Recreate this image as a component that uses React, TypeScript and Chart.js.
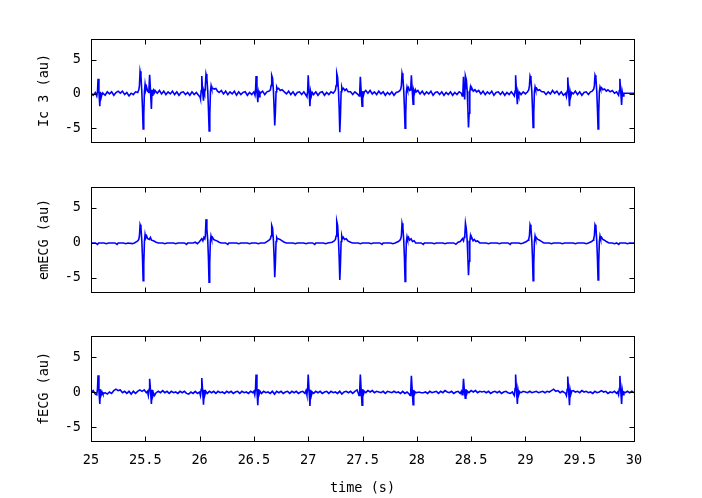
import React, { useEffect, useRef } from "react";
import { Chart, registerables } from "chart.js";
Chart.register(...registerables);

const xTicks = [25, 25.5, 26, 26.5, 27, 27.5, 28, 28.5, 29, 29.5, 30];
const yTicks = [-5, 0, 5];
const xRange = [25, 30];
const yRange = [-7, 8];
const axisTitles = ["Ic 3 (au)", "emECG (au)", "fECG (au)"];
const xTitle = "time (s)";

const ic3 = [
[25.00,0.1],[25.02,-0.2],[25.04,0.2],
[25.053,-0.3],[25.060,0.4],[25.065,2.2],[25.073,0.3],[25.081,-1.8],[25.087,0.3],[25.094,-0.5],[25.102,0.0],
[25.11,0.1],[25.13,-0.2],[25.15,0.3],[25.17,0.0],[25.19,0.3],[25.21,-0.2],[25.23,0.2],[25.25,0.4],[25.27,0.1],[25.29,0.4],[25.31,-0.1],[25.33,0.2],[25.35,-0.3],[25.37,0.1],[25.39,-0.1],[25.41,0.3],[25.43,0.2],[25.44,0.6],
[25.446,1.2],[25.452,3.3],[25.460,2.6],[25.468,0.3],[25.474,-2.0],[25.480,-5.1],[25.486,-3.0],[25.492,0.3],[25.498,1.4],[25.505,0.6],[25.512,1.0],[25.522,0.4],[25.532,0.2],
[25.534,0.8],[25.540,2.8],[25.548,0.4],[25.556,-2.2],[25.562,0.6],[25.569,-0.3],[25.577,0.5],[25.585,0.2],
[25.59,0.5],[25.61,0.1],[25.63,0.5],[25.65,0.0],[25.67,0.4],[25.69,-0.1],[25.71,0.3],[25.73,0.0],[25.75,0.4],[25.77,-0.1],[25.79,0.3],[25.81,-0.2],[25.83,0.2],[25.85,0.3],[25.87,-0.1],[25.89,0.2],[25.91,-0.2],[25.93,0.3],[25.95,-0.1],[25.97,0.2],[25.99,-0.2],[26.005,-0.5],
[26.008,-0.7],[26.015,0.5],[26.020,2.6],[26.028,0.3],[26.036,-1.0],[26.041,0.4],[26.046,0.1],[26.050,0.6],
[26.053,1.2],[26.059,2.9],[26.067,2.3],[26.075,0.4],[26.081,-2.0],[26.088,-5.4],[26.094,-3.0],[26.100,0.3],[26.106,1.2],[26.112,0.8],[26.122,0.8],[26.135,0.7],[26.150,0.8],[26.165,0.4],
[26.18,0.2],[26.20,0.5],[26.22,0.0],[26.24,0.4],[26.26,-0.1],[26.28,0.3],[26.30,0.0],[26.32,0.4],[26.34,-0.2],[26.36,0.3],[26.38,-0.1],[26.40,0.2],[26.42,0.3],[26.44,-0.2],[26.46,0.2],[26.48,-0.1],[26.50,0.3],
[26.510,-0.2],[26.515,0.4],[26.520,2.6],[26.528,0.3],[26.536,-1.2],[26.542,0.2],[26.549,-0.4],[26.556,0.2],
[26.56,0.1],[26.58,0.4],[26.60,-0.1],[26.62,0.3],[26.64,0.4],[26.652,0.6],
[26.658,1.2],[26.664,2.7],[26.672,2.3],[26.680,0.4],[26.686,-2.0],[26.692,-4.6],[26.698,-2.6],[26.704,0.3],[26.710,1.0],[26.718,0.7],[26.728,0.8],[26.742,0.5],[26.760,0.6],[26.78,0.3],
[26.80,0.0],[26.82,0.4],[26.84,-0.1],[26.86,0.3],[26.88,-0.2],[26.90,0.2],[26.92,0.3],[26.94,-0.1],[26.96,0.3],[26.98,-0.2],
[26.988,-0.4],[26.995,0.4],[27.000,2.7],[27.008,0.3],[27.016,-1.8],[27.022,0.3],[27.029,-0.3],[27.037,0.2],
[27.05,-0.1],[27.07,0.3],[27.09,-0.2],[27.11,0.2],[27.13,0.3],[27.15,-0.2],[27.17,0.2],[27.19,-0.1],[27.21,0.3],[27.23,0.1],[27.245,0.4],[27.251,0.6],
[27.257,1.2],[27.263,3.0],[27.271,2.4],[27.279,0.4],[27.285,-2.0],[27.291,-5.6],[27.297,-3.2],[27.303,0.3],[27.309,1.0],[27.316,0.6],[27.325,0.8],[27.338,0.5],[27.352,0.7],[27.368,0.3],
[27.39,0.3],[27.41,-0.1],[27.43,0.3],[27.46,-0.1],
[27.468,-0.3],[27.475,0.5],[27.480,2.5],[27.488,0.3],[27.496,-1.8],[27.502,0.4],[27.509,-0.2],[27.517,0.3],
[27.53,0.5],[27.55,0.1],[27.57,0.5],[27.59,0.0],[27.61,0.3],[27.63,-0.1],[27.65,0.4],[27.67,0.0],[27.69,0.3],[27.71,-0.2],[27.73,0.2],[27.75,-0.1],[27.77,0.3],[27.79,-0.2],[27.81,0.2],[27.83,0.3],[27.845,0.5],[27.852,0.7],
[27.858,1.2],[27.864,3.0],[27.872,2.4],[27.880,0.4],[27.886,-2.0],[27.892,-5.0],[27.898,-3.0],[27.904,0.3],[27.910,1.0],[27.916,0.6],[27.924,0.9],[27.934,0.5],[27.943,0.6],
[27.945,1.0],[27.950,2.7],[27.958,0.5],[27.966,-1.5],[27.972,0.5],[27.979,0.1],[27.987,0.6],[27.995,0.3],
[28.01,0.5],[28.03,0.0],[28.05,0.4],[28.07,-0.1],[28.09,0.3],[28.11,0.0],[28.13,0.4],[28.15,-0.2],[28.17,0.2],[28.19,0.3],[28.21,-0.1],[28.23,0.3],[28.25,-0.2],[28.27,0.2],[28.29,-0.1],[28.31,0.3],[28.33,-0.2],[28.35,0.2],[28.37,-0.1],[28.39,0.3],[28.41,0.1],
[28.418,-0.3],[28.425,0.5],[28.430,2.5],[28.436,0.4],[28.441,-0.8],[28.444,0.8],
[28.445,1.2],[28.450,2.6],[28.457,2.0],[28.464,0.4],[28.470,-2.0],[28.476,-4.9],[28.482,-2.8],[28.488,0.3],[28.494,1.0],[28.500,0.6],[28.508,0.8],[28.520,0.4],[28.535,0.6],[28.550,0.3],
[28.57,0.5],[28.59,0.0],[28.61,0.4],[28.63,-0.1],[28.65,0.3],[28.67,0.0],[28.69,0.4],[28.71,-0.2],[28.73,0.2],[28.75,0.3],[28.77,-0.1],[28.79,0.3],[28.81,-0.2],[28.83,0.2],[28.85,-0.1],[28.87,0.3],[28.89,-0.1],
[28.898,-0.3],[28.905,0.4],[28.910,2.7],[28.918,0.3],[28.926,-1.5],[28.932,0.3],[28.939,-0.2],[28.947,0.2],
[28.96,-0.1],[28.98,0.3],[29.00,0.0],[29.02,0.3],[29.031,0.6],
[29.037,1.2],[29.043,2.6],[29.051,2.2],[29.059,0.4],[29.065,-2.0],[29.071,-4.9],[29.077,-2.8],[29.083,0.3],[29.089,1.0],[29.095,0.6],[29.104,0.8],[29.116,0.5],[29.130,0.6],[29.150,0.3],
[29.17,0.3],[29.19,-0.1],[29.21,0.3],[29.23,0.0],[29.25,0.5],[29.27,0.1],[29.29,0.4],[29.31,-0.1],[29.33,0.3],[29.35,-0.2],[29.37,0.1],
[29.378,-0.4],[29.385,0.4],[29.390,2.4],[29.398,0.3],[29.406,-1.8],[29.412,0.3],[29.419,-0.3],[29.427,0.2],
[29.44,0.0],[29.46,0.4],[29.48,-0.1],[29.50,0.3],[29.52,-0.2],[29.54,0.2],[29.56,0.3],[29.58,-0.1],[29.60,0.3],[29.615,0.4],[29.629,0.7],
[29.635,1.2],[29.641,2.7],[29.649,2.3],[29.657,0.4],[29.663,-2.0],[29.669,-5.1],[29.675,-2.8],[29.681,0.3],[29.687,1.0],[29.693,0.7],[29.701,0.9],[29.713,0.6],[29.728,0.7],[29.745,0.4],
[29.76,0.6],[29.78,0.3],[29.80,0.5],[29.82,0.1],[29.84,0.3],[29.85,0.0],
[29.858,-0.2],[29.865,0.5],[29.870,2.2],[29.878,0.3],[29.886,-1.6],[29.892,0.3],[29.899,-0.3],[29.907,0.1],
[29.92,0.1],[29.94,0.1],[29.96,0.1],[29.98,0.1],[30.00,0.1]
];

const emecg = [
[25.00,0.0],[25.04,0.0],[25.06,-0.2],[25.07,0.0],[25.12,0.0],[25.14,-0.1],[25.16,0.0],[25.22,0.0],[25.24,-0.2],[25.25,0.0],[25.30,0.0],[25.32,-0.1],[25.34,0.0],[25.38,-0.1],[25.40,0.0],[25.42,0.2],[25.43,0.3],[25.44,0.5],
[25.446,1.0],[25.452,2.6],[25.460,2.2],[25.468,0.3],[25.474,-2.0],[25.480,-5.4],[25.486,-3.0],[25.492,0.2],[25.498,1.2],[25.504,0.7],[25.512,1.0],[25.522,0.6],[25.537,0.5],[25.547,0.8],[25.557,0.4],[25.575,0.3],[25.60,0.1],[25.62,0.0],
[25.66,0.0],[25.68,-0.1],[25.70,0.0],[25.76,0.0],[25.78,-0.1],[25.80,0.0],[25.86,0.0],[25.88,-0.2],[25.89,0.0],[25.94,0.0],[25.96,0.1],[25.98,-0.1],[26.00,0.2],[26.02,0.6],[26.03,0.3],[26.04,0.8],[26.048,0.6],
[26.053,1.0],[26.059,3.4],[26.067,2.0],[26.075,0.4],[26.081,-2.0],[26.087,-5.6],[26.093,-3.0],[26.099,0.2],[26.105,1.0],[26.111,0.6],[26.119,0.8],[26.129,0.5],[26.144,0.4],[26.160,0.3],[26.18,0.1],[26.20,0.0],
[26.24,0.0],[26.26,-0.2],[26.27,0.0],[26.34,0.0],[26.36,-0.1],[26.38,0.0],[26.44,0.0],[26.46,-0.1],[26.48,0.0],[26.52,0.0],[26.54,-0.1],[26.56,0.0],[26.60,0.0],[26.62,0.2],[26.64,0.4],[26.652,0.6],
[26.658,1.0],[26.664,2.5],[26.672,2.1],[26.680,0.3],[26.686,-2.0],[26.692,-4.9],[26.698,-2.8],[26.704,0.2],[26.710,0.8],[26.716,0.6],[26.724,0.6],[26.740,0.5],[26.760,0.3],[26.78,0.1],[26.80,0.0],
[26.86,0.0],[26.88,-0.1],[26.90,0.0],[26.96,0.0],[26.98,-0.1],[27.00,0.0],[27.04,0.0],[27.06,-0.2],[27.07,0.0],[27.14,0.0],[27.16,-0.1],[27.18,0.0],[27.22,0.1],[27.24,0.3],[27.251,0.5],
[27.257,1.0],[27.263,3.1],[27.271,2.5],[27.279,0.3],[27.285,-2.0],[27.291,-5.3],[27.297,-3.0],[27.303,0.2],[27.309,1.0],[27.315,0.6],[27.323,0.8],[27.335,0.5],[27.350,0.6],[27.365,0.3],[27.39,0.1],[27.41,0.0],
[27.46,0.0],[27.48,-0.1],[27.50,0.0],[27.56,0.0],[27.58,-0.1],[27.60,0.0],[27.66,0.0],[27.68,-0.2],[27.69,0.0],[27.76,0.0],[27.78,-0.1],[27.80,0.0],[27.83,0.2],[27.845,0.4],[27.852,0.6],
[27.858,1.0],[27.864,2.8],[27.872,2.2],[27.880,0.3],[27.886,-2.0],[27.892,-5.5],[27.898,-3.0],[27.904,0.2],[27.910,0.9],[27.916,0.5],[27.924,0.8],[27.934,0.4],[27.948,0.6],[27.960,0.2],[27.975,0.3],[27.99,0.0],
[28.04,0.0],[28.06,-0.2],[28.07,0.0],[28.14,0.0],[28.16,-0.1],[28.18,0.0],[28.24,0.0],[28.26,-0.1],[28.28,0.0],[28.34,0.0],[28.36,-0.2],[28.38,0.1],[28.40,0.2],[28.42,0.6],[28.43,0.3],[28.436,0.8],
[28.442,1.0],[28.448,2.8],[28.456,2.0],[28.464,0.3],[28.470,-2.0],[28.476,-4.6],[28.482,-2.6],[28.488,0.2],[28.494,1.0],[28.500,0.6],[28.508,0.7],[28.518,0.3],[28.530,0.5],[28.545,0.2],[28.56,0.3],[28.58,0.0],
[28.64,0.0],[28.66,-0.1],[28.68,0.0],[28.74,0.0],[28.76,-0.1],[28.78,0.0],[28.84,0.0],[28.86,-0.2],[28.87,0.0],[28.94,0.0],[28.96,-0.1],[28.98,0.0],[29.01,0.2],[29.025,0.4],[29.031,0.6],
[29.037,1.0],[29.043,2.6],[29.051,2.2],[29.059,0.3],[29.065,-2.0],[29.071,-5.4],[29.077,-3.0],[29.083,0.2],[29.089,1.0],[29.095,0.6],[29.103,0.7],[29.115,0.5],[29.130,0.4],[29.150,0.2],[29.17,0.0],
[29.22,0.0],[29.24,-0.1],[29.26,0.0],[29.32,0.0],[29.34,-0.1],[29.36,0.0],[29.44,0.0],[29.46,-0.1],[29.48,0.0],[29.54,0.0],[29.56,-0.1],[29.58,0.0],[29.61,0.2],[29.625,0.4],[29.629,0.6],
[29.635,1.0],[29.641,2.6],[29.649,2.3],[29.657,0.3],[29.663,-2.0],[29.669,-5.3],[29.675,-2.8],[29.681,0.2],[29.687,1.0],[29.693,0.6],[29.701,0.8],[29.713,0.5],[29.728,0.4],[29.745,0.2],[29.77,0.0],
[29.80,0.0],[29.82,-0.1],[29.84,0.0],[29.86,-0.2],[29.87,0.0],[29.92,0.0],[29.94,-0.1],[29.96,0.0],[30.00,0.0]
];

const fecg = [
[25.00,-0.1],[25.02,0.2],[25.04,-0.3],
[25.053,-0.4],[25.060,0.5],[25.065,2.4],[25.073,0.2],[25.081,-1.7],[25.087,0.4],[25.094,-0.4],[25.102,0.0],
[25.11,-0.3],[25.13,-0.1],[25.15,-0.3],[25.17,0.0],[25.19,-0.2],[25.21,0.2],[25.23,0.4],[25.25,0.2],[25.27,0.3],[25.29,-0.1],[25.31,0.1],[25.33,-0.2],[25.35,0.1],[25.37,-0.3],[25.39,0.1],[25.41,-0.2],[25.43,0.1],[25.45,0.3],[25.47,0.1],[25.49,0.3],[25.51,-0.1],[25.52,0.1],
[25.528,-0.5],[25.535,0.4],[25.540,1.9],[25.548,0.2],[25.556,-1.7],[25.562,0.3],[25.569,-0.6],[25.577,-0.2],[25.585,-0.5],
[25.60,-0.1],[25.62,0.1],[25.64,-0.1],[25.66,0.2],[25.68,-0.1],[25.70,0.1],[25.72,-0.2],[25.74,0.1],[25.76,-0.1],[25.78,0.0],[25.80,-0.2],[25.82,0.1],[25.84,-0.1],[25.86,0.1],[25.88,-0.2],[25.90,-0.3],[25.92,0.0],[25.94,-0.2],[25.96,0.1],[25.98,-0.2],[26.00,0.0],
[26.008,-0.5],[26.015,0.4],[26.020,2.0],[26.028,0.2],[26.036,-1.8],[26.042,0.3],[26.049,-0.4],[26.057,0.1],
[26.07,-0.2],[26.09,0.1],[26.11,-0.1],[26.13,0.1],[26.15,-0.2],[26.17,0.1],[26.19,-0.1],[26.21,0.0],[26.23,-0.2],[26.25,0.1],[26.27,-0.1],[26.29,0.1],[26.31,-0.2],[26.33,0.0],[26.35,0.1],[26.37,-0.2],[26.39,0.1],[26.41,-0.1],[26.43,0.0],[26.45,-0.2],[26.47,0.1],[26.49,-0.1],[26.50,0.1],
[26.508,-0.4],[26.515,0.5],[26.520,2.5],[26.528,0.2],[26.536,-1.9],[26.542,0.4],[26.549,-0.3],[26.557,0.1],
[26.57,-0.2],[26.59,0.1],[26.61,-0.1],[26.63,0.0],[26.65,-0.2],[26.67,0.1],[26.69,-0.3],[26.71,0.1],[26.73,-0.1],[26.75,0.1],[26.77,-0.2],[26.79,0.0],[26.81,0.1],[26.83,-0.2],[26.85,0.1],[26.87,-0.1],[26.89,0.1],[26.91,-0.2],[26.93,0.0],[26.95,0.1],[26.97,-0.2],[26.98,0.2],
[26.988,-0.4],[26.995,0.5],[27.000,2.5],[27.008,0.2],[27.016,-2.0],[27.022,0.3],[27.029,-0.5],[27.037,0.0],
[27.05,-0.2],[27.07,0.1],[27.09,-0.1],[27.11,0.1],[27.13,-0.2],[27.15,0.0],[27.17,0.1],[27.19,-0.2],[27.21,0.1],[27.23,-0.1],[27.25,0.0],[27.27,-0.2],[27.29,0.1],[27.31,-0.3],[27.33,0.0],[27.35,0.1],[27.37,-0.1],[27.39,0.1],[27.41,-0.2],[27.43,0.1],[27.45,0.3],[27.46,-0.1],
[27.468,-0.5],[27.475,0.5],[27.480,2.5],[27.488,0.2],[27.496,-1.9],[27.502,0.4],[27.509,-0.3],[27.517,0.1],
[27.53,-0.1],[27.55,0.2],[27.57,0.0],[27.59,0.2],[27.61,-0.1],[27.63,0.1],[27.65,0.0],[27.67,-0.1],[27.69,0.1],[27.71,-0.2],[27.73,0.1],[27.75,0.0],[27.77,-0.1],[27.79,0.1],[27.81,-0.1],[27.83,0.0],[27.85,-0.2],[27.87,0.1],[27.89,-0.2],[27.91,0.0],[27.93,-0.3],
[27.938,-0.5],[27.945,0.4],[27.950,2.3],[27.958,0.2],[27.966,-1.8],[27.972,0.3],[27.979,-0.3],[27.987,0.0],
[28.00,-0.1],[28.02,0.0],[28.04,-0.1],[28.06,-0.1],[28.08,0.0],[28.10,-0.2],[28.12,0.1],[28.14,-0.1],[28.16,0.0],[28.18,0.1],[28.20,-0.2],[28.22,0.1],[28.24,-0.1],[28.26,0.2],[28.28,0.0],[28.30,-0.1],[28.32,0.1],[28.34,-0.2],[28.36,0.0],[28.38,0.1],[28.40,-0.2],[28.41,0.1],
[28.418,-0.4],[28.425,0.4],[28.430,1.9],[28.438,0.2],[28.446,-0.9],[28.452,0.4],[28.459,-0.3],[28.467,0.1],
[28.48,-0.1],[28.50,0.2],[28.52,0.0],[28.54,0.2],[28.56,-0.1],[28.58,0.1],[28.60,0.0],[28.62,0.1],[28.64,-0.1],[28.66,0.1],[28.68,-0.2],[28.70,0.0],[28.72,0.1],[28.74,-0.1],[28.76,0.1],[28.78,-0.2],[28.80,0.0],[28.82,0.1],[28.84,-0.1],[28.86,-0.2],[28.88,0.0],[28.89,-0.3],
[28.898,-0.5],[28.905,0.5],[28.910,2.5],[28.918,0.2],[28.926,-1.7],[28.932,0.3],[28.939,-0.4],[28.947,0.0],
[28.96,-0.1],[28.98,0.1],[29.00,0.0],[29.02,-0.1],[29.04,0.1],[29.06,-0.1],[29.08,0.0],[29.10,0.1],[29.12,-0.1],[29.14,0.0],[29.16,0.1],[29.18,-0.1],[29.20,0.1],[29.22,0.0],[29.24,0.2],[29.26,0.4],[29.28,0.1],[29.30,0.2],[29.32,-0.1],[29.34,0.1],[29.36,-0.1],[29.37,-0.2],
[29.378,-0.5],[29.385,0.4],[29.390,2.2],[29.398,0.2],[29.406,-1.9],[29.412,0.3],[29.419,-0.3],[29.427,0.1],
[29.44,0.2],[29.46,0.0],[29.48,0.1],[29.50,-0.1],[29.52,0.2],[29.54,0.0],[29.56,0.1],[29.58,-0.1],[29.60,0.0],[29.62,-0.2],[29.64,0.1],[29.66,-0.1],[29.68,0.0],[29.70,0.2],[29.72,0.0],[29.74,0.1],[29.76,-0.2],[29.78,0.0],[29.80,-0.1],[29.82,0.1],[29.84,-0.2],[29.85,0.0],
[29.858,-0.4],[29.865,0.5],[29.870,2.3],[29.878,0.2],[29.886,-1.7],[29.892,0.3],[29.899,-0.4],[29.907,0.0],
[29.92,-0.1],[29.94,0.1],[29.96,-0.1],[29.98,0.1],[30.00,-0.1]
];

const FONT = { family: "'DejaVu Sans Mono', monospace", size: 13.5 };

const framePlugin = {
  id: "frame",
  afterDraw(chart: any) {
    const { ctx, chartArea } = chart;
    const xs = chart.scales.x;
    const ys = chart.scales.y;
    const L = Math.round(chartArea.left) + 0.5;
    const R = Math.round(chartArea.right) + 0.5;
    const T = Math.round(chartArea.top) + 0.5;
    const B = Math.round(chartArea.bottom) + 0.5;
    const tl = 5;
    ctx.save();
    ctx.strokeStyle = "#000";
    ctx.lineWidth = 1;
    ctx.beginPath();
    for (const v of xTicks) {
      const px = Math.round(xs.getPixelForValue(v)) + 0.5;
      ctx.moveTo(px, T); ctx.lineTo(px, T + tl);
      ctx.moveTo(px, B); ctx.lineTo(px, B - tl);
    }
    for (const v of yTicks) {
      const py = Math.round(ys.getPixelForValue(v)) + 0.5;
      ctx.moveTo(L, py); ctx.lineTo(L + tl, py);
      ctx.moveTo(R, py); ctx.lineTo(R - tl, py);
    }
    ctx.stroke();
    ctx.strokeRect(L, T, R - L, B - T);
    ctx.restore();
  },
};

type PanelProps = {
  data: number[][];
  title: string;
  top: number;
  height: number;
  padTop: number;
  padBottom: number;
  showX: boolean;
};

function Panel({ data, title, top, height, padTop, padBottom, showX }: PanelProps) {
  const ref = useRef<HTMLCanvasElement | null>(null);
  useEffect(() => {
    if (!ref.current) return;
    const chart = new Chart(ref.current, {
      type: "line",
      data: {
        datasets: [
          {
            data: data.map(([x, y]) => ({ x, y })),
            borderColor: "#0000ff",
            borderWidth: 1.6,
            pointRadius: 0,
            tension: 0,
            fill: false,
          },
        ],
      },
      options: {
        responsive: false,
        animation: false,
        events: [],
        layout: { padding: { left: 0, right: 68, top: padTop, bottom: padBottom } },
        plugins: { legend: { display: false }, tooltip: { enabled: false } },
        scales: {
          x: {
            type: "linear",
            min: xRange[0],
            max: xRange[1],
            display: showX,
            afterBuildTicks: (s: any) => { s.ticks = xTicks.map((v) => ({ value: v })); },
            afterFit: (s: any) => { if (showX) s.height = 57; },
            grid: { display: false, drawTicks: false },
            border: { display: false },
            ticks: { padding: 11, font: FONT, color: "#000", maxRotation: 0, autoSkip: false, callback: (v: any) => String(v) },
            title: { display: true, text: xTitle, font: FONT, color: "#000", padding: { top: 0, bottom: 1 } },
          },
          y: {
            type: "linear",
            min: yRange[0],
            max: yRange[1],
            afterBuildTicks: (s: any) => { s.ticks = yTicks.map((v) => ({ value: v })); },
            afterFit: (s: any) => { s.width = 91; },
            grid: { display: false, drawTicks: false },
            border: { display: false },
            ticks: { padding: 10, font: FONT, color: "#000", callback: (v: any) => String(v) },
            title: { display: true, text: title, font: FONT, color: "#000", padding: { top: 36, bottom: 0 } },
          },
        },
      },
      plugins: [framePlugin],
    } as any);
    return () => chart.destroy();
  }, []);
  return (
    <canvas
      ref={ref}
      width={702}
      height={height}
      style={{ position: "absolute", left: 0, top, width: 702, height }}
    />
  );
}

export default function App() {
  return (
    <div style={{ position: "fixed", left: 0, top: 0, width: 702, height: 498, background: "#fff" }}>
      <Panel data={ic3} title={axisTitles[0]} top={0} height={160} padTop={39} padBottom={16} showX={false} />
      <Panel data={emecg} title={axisTitles[1]} top={160} height={150} padTop={27} padBottom={17} showX={false} />
      <Panel data={fecg} title={axisTitles[2]} top={310} height={188} padTop={26} padBottom={0} showX={true} />
    </div>
  );
}
